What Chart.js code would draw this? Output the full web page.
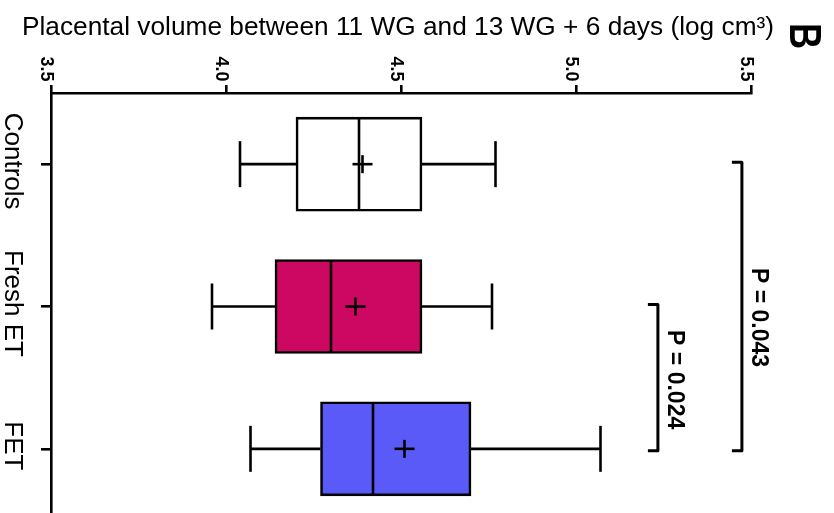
<!DOCTYPE html>
<html lang="en">
<head>
<meta charset="UTF-8">
<title>Placental volume</title>
<style>
  html, body { margin: 0; padding: 0; overflow: hidden; background: #fff; }
  canvas { display: block; }
</style>
<script src="https://cdn.jsdelivr.net/npm/chart.js"></script>
</head>
<body>
<canvas id="chart" width="834" height="540"></canvas>
<script>
// values (log cm3)
const groups = ['Controls', 'Fresh ET', 'FET'];
const whiskerLow = [4.04, 3.96, 4.07];
const q1 = [4.20, 4.14, 4.27];
const medians = [4.38, 4.30, 4.42];
const q3 = [4.56, 4.56, 4.70];
const whiskerHigh = [4.77, 4.76, 5.07];
const means = [4.39, 4.37, 4.51];
const xTicks = [3.5, 4.0, 4.5, 5.0, 5.5];

// significance brackets
const compareFrom = [1, 0];
const compareTo = [2, 2];
const pValues = ['P = 0.024', 'P = 0.043'];

const boxColors = ['#ffffff', '#cd0862', '#5a5af8'];
const bracketX = [5.234, 5.474];   // where each bracket sits, in axis units
const labelShift = [2, 11];
const FONT = '"Liberation Sans", Arial, sans-serif';
const LW = 2.6;

function seg(ctx, x1, y1, x2, y2) {
    ctx.beginPath();
    ctx.moveTo(x1, y1);
    ctx.lineTo(x2, y2);
    ctx.stroke();
}

function rotText(ctx, text, x, y, font, scaleX) {
    ctx.save();
    ctx.translate(x, y);
    ctx.rotate(Math.PI / 2);
    if (scaleX) ctx.scale(scaleX, 1);
    ctx.font = font;
    ctx.textAlign = 'center';
    ctx.textBaseline = 'alphabetic';
    ctx.fillText(text, 0, 0);
    ctx.restore();
}

const boxExtras = {
    id: 'boxExtras',
    afterDatasetsDraw(chart) {
        const ctx = chart.ctx;
        const xs = chart.scales.x, ys = chart.scales.y;
        ctx.save();
        ctx.strokeStyle = '#000';
        ctx.lineWidth = LW;
        groups.forEach((g, i) => {
            const yc = ys.getPixelForValue(i);
            const lo = xs.getPixelForValue(whiskerLow[i]);
            const hi = xs.getPixelForValue(whiskerHigh[i]);
            // whiskers + caps
            seg(ctx, lo, yc, xs.getPixelForValue(q1[i]), yc);
            seg(ctx, xs.getPixelForValue(q3[i]), yc, hi, yc);
            seg(ctx, lo, yc - 23, lo, yc + 23);
            seg(ctx, hi, yc - 23, hi, yc + 23);
            // median
            const md = xs.getPixelForValue(medians[i]);
            seg(ctx, md, yc - 46, md, yc + 46);
            // mean marker
            const mn = xs.getPixelForValue(means[i]);
            seg(ctx, mn - 10, yc, mn + 10, yc);
            seg(ctx, mn, yc - 9, mn, yc + 9);
        });
        ctx.restore();
    },
    afterDraw(chart) {
        const ctx = chart.ctx;
        const xs = chart.scales.x, ys = chart.scales.y;
        ctx.save();
        ctx.fillStyle = '#000';
        ctx.strokeStyle = '#000';
        ctx.lineWidth = 3;
        ctx.lineJoin = 'round';

        // title, stretched to the width it has in the figure
        const title = 'Placental volume between 11 WG and 13 WG + 6 days (log cm\u00b3)';
        ctx.font = '26px ' + FONT;
        const w = ctx.measureText(title).width;
        ctx.save();
        ctx.translate(22, 35);
        ctx.scale(752 / w, 1);
        ctx.textAlign = 'left';
        ctx.textBaseline = 'alphabetic';
        ctx.fillText(title, 0, 0);
        ctx.restore();

        // panel letter
        rotText(ctx, 'B', 790, 36, 'bold 44px ' + FONT, 0.82);

        // value axis labels
        xTicks.forEach(v => {
            rotText(ctx, v.toFixed(1), xs.getPixelForValue(v) - 10, 69, 'bold 18px ' + FONT);
        });

        // group labels
        groups.forEach((g, i) => {
            rotText(ctx, g, 5, ys.getPixelForValue(i) - 3, '26px ' + FONT);
        });

        // brackets
        pValues.forEach((p, k) => {
            const bx = xs.getPixelForValue(bracketX[k]);
            const y1 = ys.getPixelForValue(compareFrom[k]) - 2;
            const y2 = ys.getPixelForValue(compareTo[k]) + 2;
            ctx.beginPath();
            ctx.moveTo(bx - 10, y1);
            ctx.lineTo(bx, y1);
            ctx.lineTo(bx, y2);
            ctx.lineTo(bx - 10, y2);
            ctx.stroke();
            rotText(ctx, p, bx + 10, (y1 + y2) / 2 + labelShift[k], 'bold 23px ' + FONT);
        });
        ctx.restore();
    }
};

new Chart(document.getElementById('chart'), {
    type: 'bar',
    data: {
        labels: groups,
        datasets: [{
            data: groups.map((g, i) => [q1[i], q3[i]]),
            backgroundColor: boxColors,
            borderColor: '#000',
            borderWidth: LW,
            borderSkipped: false,
            barThickness: 94
        }]
    },
    options: {
        indexAxis: 'y',
        responsive: false,
        animation: false,
        devicePixelRatio: 1,
        layout: { padding: { left: 41, top: 85, right: 83, bottom: 20 } },
        plugins: { legend: { display: false }, tooltip: { enabled: false }, title: { display: false } },
        scales: {
            x: {
                type: 'linear',
                position: 'top',
                min: 3.5,
                max: 5.5,
                ticks: { display: false, stepSize: 0.5 },
                grid: { drawOnChartArea: false, tickLength: 8, color: '#000', lineWidth: LW },
                border: { color: '#000', width: LW }
            },
            y: {
                ticks: { display: false },
                grid: { drawOnChartArea: false, offset: false, tickLength: 10, color: '#000', lineWidth: LW },
                border: { color: '#000', width: LW }
            }
        }
    },
    plugins: [boxExtras]
});
</script>
</body>
</html>
